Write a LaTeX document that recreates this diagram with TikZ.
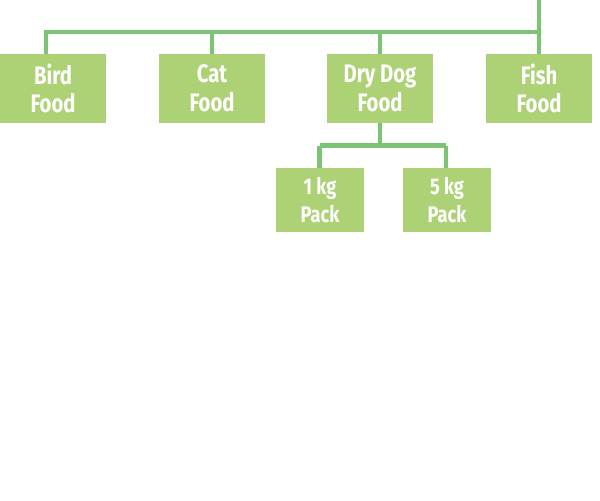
\documentclass[tikz,border=0pt]{standalone}
\usepackage{fontspec}
\setmainfont{Fira Sans}[FakeStretch=0.8]
\definecolor{boxgreen}{RGB}{173,209,117}
\definecolor{linegreen}{RGB}{122,196,116}
\begin{document}
\begin{tikzpicture}[x=0.75pt,y=-0.75pt,
  catbox/.style={fill=boxgreen,draw=none,text=white,align=center,inner sep=0pt,
    font=\fontsize{19}{21.5}\selectfont\bfseries},
  conn/.style={draw=linegreen,line width=3.6pt}]
\useasboundingbox (0,0) rectangle (600,500);
\node[catbox,minimum width=79.5pt,minimum height=51.75pt] (bird) at (53,88.5) {Bird\\Food};
\node[catbox,minimum width=79.5pt,minimum height=51.75pt] (cat) at (212,88.5) {Cat\\Food};
\node[catbox,minimum width=79.5pt,minimum height=51.75pt] (dog) at (380,88.5) {Dry Dog\\Food};
\node[catbox,minimum width=79.5pt,minimum height=51.75pt] (fish) at (539,88.5) {Fish\\Food};
\node[catbox,minimum width=66pt,minimum height=48pt,font=\fontsize{17}{21.5}\selectfont\bfseries] (one) at (320,200) {1 kg\\Pack};
\node[catbox,minimum width=66pt,minimum height=48pt,font=\fontsize{17}{21.5}\selectfont\bfseries] (five) at (447,200) {5 kg\\Pack};
\coordinate (top) at (539,0);
\coordinate (bus) at (539,32);
\coordinate (sub) at (380,145.5);
\draw[conn] (top) -- (bus) -- (46,32) -- (46,54);
\draw[conn] (212,32) -- (cat.north);
\draw[conn] (380,32) -- (dog.north);
\draw[conn] (bus) -- (fish.north);
\draw[conn] (dog.south) -- (sub);
\draw[conn] (319.5,145.5) -- (446,145.5);
\draw[conn] (319.5,145.5) -- (319.5,168);
\draw[conn] (446,145.5) -- (446,168);
\end{tikzpicture}
\end{document}
